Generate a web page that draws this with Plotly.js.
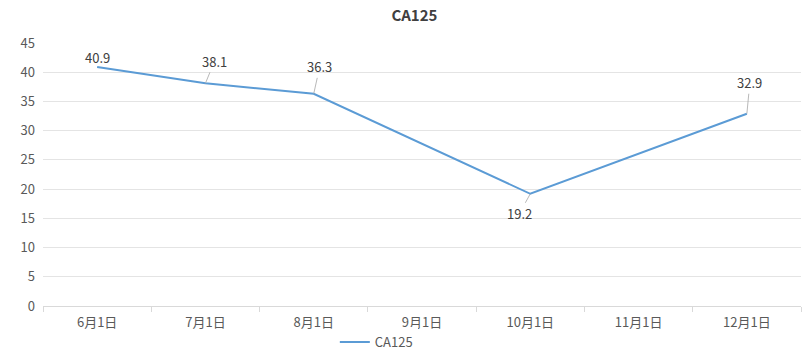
<!DOCTYPE html>
<html>
<head>
<meta charset="utf-8">
<script src="https://cdn.plot.ly/plotly-3.0.1.min.js"></script>
<style>html,body{margin:0;padding:0;background:#fff;}#chart{width:803px;height:355px;}</style>
</head>
<body>
<div id="chart"></div>
<script>
const categories = ["6月1日","7月1日","8月1日","9月1日","10月1日","11月1日","12月1日"];
const ca125 = [40.9, 38.1, 36.3, null, 19.2, null, 32.9];
const yTicks = [0,5,10,15,20,25,30,35,40,45];

// label offsets (pixels) for data labels: [ax, ay], null = no leader line
const labelOffsets = [null, [9,-22], [6,-27], null, [-11,20], null, [3,-31]];

const font = '"Microsoft YaHei","Noto Sans CJK SC","Noto Sans",sans-serif';

const annotations = [];
ca125.forEach((v, i) => {
  if (v === null) return;
  const off = labelOffsets[i];
  if (off) {
    annotations.push({x: categories[i], y: v, xref:'x', yref:'y', text: String(v),
      showarrow: true, arrowhead: 0, arrowwidth: 0.8, arrowcolor: '#a6a6a6',
      ax: off[0], ay: off[1], standoff: 0, startstandoff: 0,
      font: {family: font, size: 13, color: '#404040'}});
  } else {
    annotations.push({x: categories[i], y: v, xref:'x', yref:'y', text: String(v),
      showarrow: false, yshift: 9,
      font: {family: font, size: 13, color: '#404040'}});
  }
});

const data = [{
  type: 'scatter', mode: 'lines', name: 'CA125',
  x: categories, y: ca125, connectgaps: true,
  line: {color: '#5B9BD5', width: 2}
}];

const layout = {
  width: 803, height: 355,
  margin: {l: 43, r: 2, t: 43, b: 49, autoexpand: false},
  paper_bgcolor: '#fff', plot_bgcolor: '#fff',
  font: {family: font, size: 13, color: '#595959'},
  title: {text: '<b>CA125</b>', x: 0.49, xref: 'paper', xanchor: 'center', y: 0.955, yanchor: 'middle',
    font: {family: font, size: 15, color: '#404040'}},
  showlegend: true,
  legend: {orientation: 'h', x: 0.385, xref: 'paper', xanchor: 'left', y: -0.08, yanchor: 'top',
    font: {family: font, size: 13, color: '#595959'}},
  xaxis: {type: 'category', categoryorder: 'array', categoryarray: categories,
    range: [-0.5, 6.5], showgrid: false, showline: true, linecolor: '#d9d9d9', linewidth: 1,
    ticks: 'outside', tickson: 'boundaries', ticklen: 5, tickcolor: '#d9d9d9', ticklabelstandoff: 4,
    tickfont: {family: font, size: 13, color: '#595959'}, zeroline: false, fixedrange: true},
  yaxis: {range: [0, 45], tickvals: yTicks, showgrid: true, gridcolor: '#e4e4e4', gridwidth: 1,
    zeroline: false, showline: false, ticks: '', ticklabelstandoff: 7,
    tickfont: {family: font, size: 13, color: '#595959'}, fixedrange: true},
  annotations: annotations
};

Plotly.newPlot('chart', data, layout, {displayModeBar: false, staticPlot: true});
</script>
</body>
</html>
